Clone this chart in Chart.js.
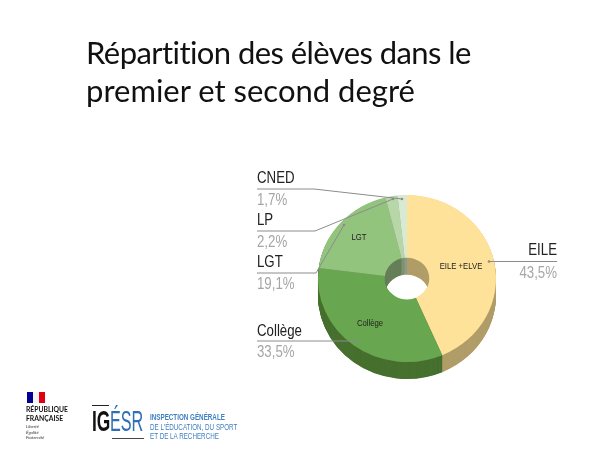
<!DOCTYPE html>
<html lang="fr"><head><meta charset="utf-8">
<script src="https://cdn.jsdelivr.net/npm/chart.js@4"></script>
<style>
html,body{margin:0;padding:0;background:#fff;width:600px;height:450px;overflow:hidden}
#wrap{position:relative;width:600px;height:450px}
canvas{position:absolute;left:0;top:0}
.t{position:absolute;white-space:nowrap;line-height:1;transform-origin:0 0}
#title{left:86px;top:33px;font:31px/38px Lato,sans-serif;color:#111;white-space:nowrap;position:absolute}
</style></head><body>
<div id="wrap">
<canvas id="c" width="600" height="450"></canvas>
<div id="title"><span style="letter-spacing:-.57px">Répartition des élèves dans le</span><br>premier et second degré</div>
<div class="t" style="left:27px;top:392px;width:6px;height:11px;background:#000091"></div>
<div class="t" style="left:33px;top:392px;width:6px;height:11px;background:#f4f4f4"></div>
<div class="t" style="left:39px;top:392px;width:6px;height:11px;background:#e1000f"></div>
<div class="t" style="left:26px;top:405px;font:bold 8px/8.5px Lato,sans-serif;color:#111;transform:scaleX(.85)">RÉPUBLIQUE<br>FRANÇAISE</div>
<div class="t" style="left:26px;top:424px;font:italic 4.5px/5.5px Lato,sans-serif;color:#333">Liberté<br>Égalité<br>Fraternité</div>
<div class="t" style="left:92px;top:405px;width:17px;height:1px;background:#222"></div>
<div class="t" style="left:112px;top:438px;width:32px;height:1px;background:#444"></div>
<div class="t" style="left:92px;top:406px;font:bold 30px/30px 'Liberation Sans',sans-serif;color:#111;transform:scaleX(.58)">IG</div>
<div class="t" style="left:110px;top:406px;font:30px/30px 'Liberation Sans',sans-serif;color:#2f6fb5;transform:scaleX(.54)">ÉSR</div>
<div class="t" style="left:150px;top:412px;font:9.5px/9.5px 'Liberation Sans',sans-serif;color:#3f7fc0;transform:scaleX(.66)"><b>INSPECTION GÉNÉRALE</b><br>DE L'ÉDUCATION, DU SPORT<br>ET DE LA RECHERCHE</div>
</div>
<script>
const categories = ['EILE', 'Collège', 'LGT', 'LP', 'CNED'];
const values = [43.5, 33.5, 19.1, 2.2, 1.7];
const percentLabels = ['43,5%', '33,5%', '19,1%', '2,2%', '1,7%'];
const topColors = ['#FFE299', '#68A74F', '#93C47D', '#B7D7A8', '#D9EAD3'];
const sideColors = ['#B09D68', '#47702F', '#667F58', '#7C9270', '#8D9A88'];
const innerLabels = ['EILE +ELVE', 'Collège', 'LGT'];

const CX = 407, CY = 278.5, RX = 89, RY = 83.5, DEPTH = 17;
const squash = RY / RX;
const callouts = [
  {name:[557,250,'right'], pct:[557,273,'right'], path:[[557,261.5],[489,261.5]]},
  {name:[257,331,'left'], pct:[257,352,'left'], path:[[257,341],[356,341]]},
  {name:[257,262,'left'], pct:[257,284,'left'], path:[[257,273],[316,273],[344,225]]},
  {name:[257,220,'left'], pct:[257,242,'left'], path:[[257,231],[315,231],[393,199]]},
  {name:[257,178,'left'], pct:[257,200,'left'], path:[[257,189],[314,189],[402,199]]}
];
const innerPos = [[461,267],[370,324],[359,238]];

function label(ctx, text, x, y, align, sx) {
  ctx.save();
  ctx.translate(x, y); ctx.scale(sx, 1);
  ctx.textAlign = align;
  ctx.fillText(text, 0, 0);
  ctx.restore();
}

const pie3d = {
  id: 'pie3d',
  beforeDatasetsDraw(chart) {
    const ctx = chart.ctx, arcs = chart.getDatasetMeta(0).data;
    ctx.save();
    ctx.translate(CX, CY); ctx.scale(1, squash); ctx.translate(-CX, -CY);
    for (let d = DEPTH; d > 0; d -= 0.5) {
      ctx.save();
      ctx.translate(0, d / squash);
      arcs.forEach((a, i) => {
        const o = a.options, s = Object.create(o);
        s.backgroundColor = sideColors[i];
        a.options = s; a.draw(ctx); a.options = o;
      });
      ctx.restore();
    }
  },
  afterDatasetsDraw(chart) { chart.ctx.restore(); },
  afterDraw(chart) {
    const ctx = chart.ctx;
    ctx.save();
    ctx.textBaseline = 'middle';
    callouts.forEach((c, i) => {
      ctx.strokeStyle = '#8c8c8c'; ctx.lineWidth = 1;
      ctx.beginPath();
      c.path.forEach((p, j) => j ? ctx.lineTo(p[0], p[1]) : ctx.moveTo(p[0], p[1]));
      ctx.stroke();
      const e = c.path[c.path.length - 1];
      ctx.fillStyle = '#8c8c8c'; ctx.beginPath(); ctx.arc(e[0], e[1], 1.3, 0, 7); ctx.fill();
      ctx.font = '17px "Liberation Sans", sans-serif';
      ctx.fillStyle = '#222';
      label(ctx, categories[i], c.name[0], c.name[1], c.name[2], 0.78);
      ctx.fillStyle = '#a6a6a6';
      label(ctx, percentLabels[i], c.pct[0], c.pct[1], c.pct[2], 0.78);
    });
    ctx.font = '9px "Liberation Sans", sans-serif';
    ctx.fillStyle = '#222';
    innerLabels.forEach((t, i) => label(ctx, t, innerPos[i][0], innerPos[i][1], 'center', 0.86));
    ctx.restore();
  }
};

new Chart(document.getElementById('c'), {
  type: 'doughnut',
  data: { labels: categories, datasets: [{ data: values, backgroundColor: topColors, borderWidth: 0 }] },
  options: {
    responsive: false, animation: false, cutout: '25%',
    layout: { padding: { left: CX - RX, right: 600 - CX - RX, top: CY - RX, bottom: 450 - CY - RX } },
    plugins: { legend: { display: false }, tooltip: { enabled: false } }
  },
  plugins: [pie3d]
});
</script>
</body></html>
